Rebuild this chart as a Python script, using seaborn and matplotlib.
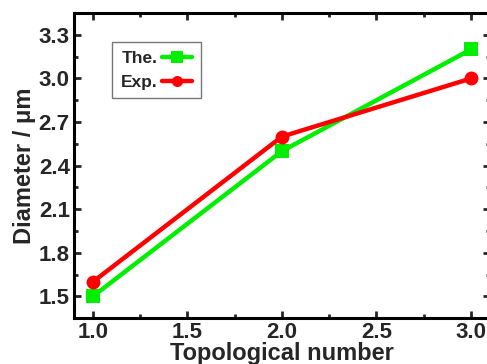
import matplotlib
matplotlib.use("Agg")
import matplotlib.pyplot as plt
import seaborn as sns
import pandas as pd
from matplotlib.ticker import AutoMinorLocator

topo = [1.0, 2.0, 3.0]
the_vals = [1.5, 2.5, 3.2]
exp_vals = [1.6, 2.6, 3.0]
xticks = [1.0, 1.5, 2.0, 2.5, 3.0]
yticks = [1.5, 1.8, 2.1, 2.4, 2.7, 3.0, 3.3]

sns.set_theme(style="ticks")
plt.rcParams['font.family'] = ['Liberation Sans', 'DejaVu Sans']
plt.rcParams['font.weight'] = 'bold'

df = pd.DataFrame({"x": topo * 2, "y": the_vals + exp_vals,
                   "s": ["The."] * 3 + ["Exp."] * 3})

fig = plt.figure(figsize=(4.87, 3.64), dpi=100)
ax = fig.add_axes([0.152, 0.126, 1.006 - 0.152, 0.964 - 0.126])

sns.lineplot(data=df, x="x", y="y", hue="s", style="s",
             palette={"The.": "#00ee00", "Exp.": "#ff0000"},
             markers={"The.": "s", "Exp.": "o"}, dashes=False,
             markersize=10, linewidth=3.2, markeredgewidth=0, ax=ax)

ax.set_xlim(0.9, 3.1)
ax.set_ylim(1.35, 3.45)
ax.set_xticks(xticks)
ax.set_yticks(yticks)
ax.set_xticklabels([f"{v:.1f}" for v in xticks], fontsize=16, fontweight='bold')
ax.set_yticklabels([f"{v:.1f}" for v in yticks], fontsize=16, fontweight='bold')
ax.xaxis.set_minor_locator(AutoMinorLocator(2))
ax.yaxis.set_minor_locator(AutoMinorLocator(2))
ax.tick_params(which='both', direction='in', top=True, right=True, width=2)
ax.tick_params(which='major', length=5, pad=3)
ax.tick_params(which='minor', length=3)
for sp in ax.spines.values():
    sp.set_linewidth(2.2)
    sp.set_color('black')

ax.set_xlabel("Topological number", fontsize=17, fontweight='bold', labelpad=-1)
ax.set_ylabel("Diameter / μm", fontsize=17, fontweight='bold', labelpad=2)

handles, labels = ax.get_legend_handles_labels()
leg = ax.legend(handles, labels, loc='upper left', bbox_to_anchor=(0.091, 0.905),
                borderaxespad=0, markerscale=0.8,
                markerfirst=False, frameon=True, fancybox=False, fontsize=12.5,
                handlelength=1.75, borderpad=0.5, labelspacing=0.5, handletextpad=0.25)
leg.get_frame().set_edgecolor('#555555')
leg.get_frame().set_linewidth(1.0)
for t in leg.get_texts():
    t.set_fontweight('bold')

fig.savefig("out.png", dpi=100)
